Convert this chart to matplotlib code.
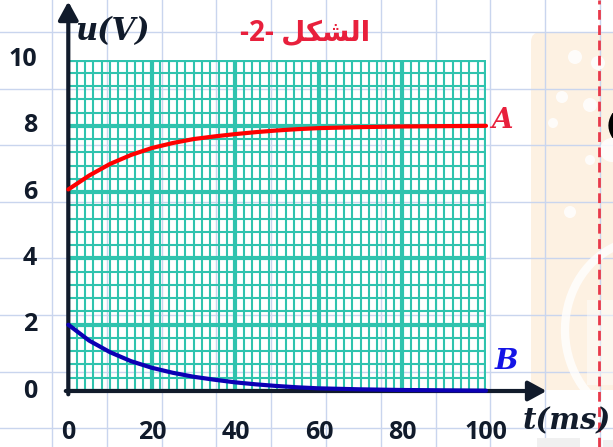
import numpy as np
import matplotlib
matplotlib.use('Agg')
import matplotlib.pyplot as plt
from matplotlib.patches import FancyBboxPatch, Circle, Arc, Rectangle

# values
t_ms = [0, 5, 10, 15, 20, 25, 30, 35, 40, 45, 50, 55, 60, 70, 80, 90, 100]
u_A = [6.08, 6.5, 6.85, 7.12, 7.33, 7.48, 7.6, 7.68, 7.75, 7.81, 7.86, 7.9, 7.93, 7.96, 7.98, 7.99, 8.0]
u_B = [2.0, 1.52, 1.17, 0.9, 0.7, 0.55, 0.43, 0.34, 0.26, 0.2, 0.15, 0.11, 0.08, 0.05, 0.03, 0.02, 0.01]

x_ticks = [0, 20, 40, 60, 80, 100]
y_ticks = [0, 2, 4, 6, 8, 10]

# "الشكل -2-" written left to right with presentation forms
title_text = '-2- ' + '\uFEDE\uFEDC\uFEB8\uFEDF\uFE8D'

DARK = '#111b2b'
GREEN = '#2fc3ae'
RED = '#e8203c'
BLUE = '#1414e6'

W, H = 613, 447
fig = plt.figure(figsize=(W / 100, H / 100), dpi=100)
fig.patch.set_facecolor('white')

# background page: light squared paper and decoration on the right
bg = fig.add_axes([0, 0, 1, 1], zorder=0)
bg.set_xlim(0, W)
bg.set_ylim(H, 0)
bg.axis('off')
for x in np.arange(52, W, 54.8):
    bg.axvline(x, color='#c9d5ee', lw=1.0)
for y in np.arange(32, H, 56.6):
    bg.axhline(y, color='#c9d5ee', lw=1.0)

bg.add_patch(FancyBboxPatch((531, 32), 130, 358, boxstyle='round,pad=0,rounding_size=10',
                            fc='#fdf1e2', ec='none', zorder=1))
for cx, cy, r in [(575, 57, 7), (598, 63, 7), (562, 97, 6), (590, 105, 7),
                  (553, 123, 5), (590, 160, 5), (612, 150, 12), (570, 212, 6)]:
    bg.add_patch(Circle((cx, cy), r, fc='white', ec='none', alpha=0.85, zorder=2))
bg.add_patch(Arc((645, 330), 160, 180, theta1=105, theta2=250, color='white', lw=6,
                 alpha=0.8, zorder=2))
bg.add_patch(Rectangle((587, 300), 30, 85, fc='white', ec='none', alpha=0.45, zorder=2))
bg.add_patch(Rectangle((537, 438), 43, 12, fc='#f0f0f0', ec='none', zorder=2))
bg.add_patch(Rectangle((603, 440), 12, 10, fc='#f0f0f0', ec='none', zorder=2))
bg.text(606, 127, '(', fontsize=20, fontweight='bold', color='black', ha='left', va='center', zorder=3)
bg.axvline(599, color='#e8394a', lw=2, ls=(0, (3.5, 2)), zorder=4)

# graph paper axes
x0, x1 = 68.3, 486
y0, y1 = 391, 59.5
ax = fig.add_axes([x0 / W, (H - y0) / H, (x1 - x0) / W, (y0 - y1) / H], zorder=2)
ax.set_facecolor('none')
ax.set_xlim(0, 100)
ax.set_ylim(0, 10)
for s in ax.spines.values():
    s.set_visible(False)

ax.set_xticks(x_ticks)
ax.set_xticks(np.arange(0, 100.1, 2), minor=True)
ax.set_yticks(y_ticks)
ax.set_yticks(np.arange(0, 10.01, 0.4), minor=True)
ax.tick_params(which='both', length=0, labelbottom=False, labelleft=False)
ax.grid(which='major', color=GREEN, lw=3.0)
ax.grid(which='minor', color=GREEN, lw=1.5)
ax.set_axisbelow(True)

# axes with arrows
arrow = dict(arrowstyle='-|>,head_length=0.55,head_width=0.3', lw=3, color=DARK,
             shrinkA=0, shrinkB=0, mutation_scale=20)
ax.annotate('', xy=(0, 11.75), xytext=(0, -0.1), arrowprops=arrow, annotation_clip=False, zorder=4)
ax.annotate('', xy=(114.5, 0), xytext=(-0.6, 0), arrowprops=arrow, annotation_clip=False, zorder=4)

# curves
ax.plot(t_ms, u_A, color='#ff0000', lw=3, solid_capstyle='round', clip_on=False, zorder=5)
ax.plot(t_ms, u_B, color='#0c00b4', lw=3, solid_capstyle='round', clip_on=False, zorder=5)

# tick labels
tick_font = dict(family=['Open Sans', 'DejaVu Sans'], fontsize=18, fontweight='bold', color=DARK)
for xv in x_ticks:
    ax.text(xv, -1.24, str(xv), ha='center', va='center', clip_on=False, **tick_font)
for yv in y_ticks:
    ax.text(-7.5, yv, str(yv), ha='right', va='center', clip_on=False, **tick_font)

# labels
label_font = dict(family='DejaVu Serif', fontweight='bold', style='italic')
ax.text(10.5, 10.85, 'u(V)', ha='center', va='center', fontsize=22, color=DARK, clip_on=False, **label_font)
ax.text(130.0, -0.9, 't(ms)', ha='right', va='center', fontsize=21, color=DARK, clip_on=False, **label_font)
ax.text(103.8, 8.17, 'A', ha='center', va='center', fontsize=20, color=RED, clip_on=False, **label_font)
ax.text(104.9, 0.9, 'B', ha='center', va='center', fontsize=20, color=BLUE, clip_on=False, **label_font)

ax.text(56.8, 10.8, title_text, ha='center', va='center', fontsize=20, fontweight='bold',
        family=['Open Sans', 'DejaVu Sans'], color=RED, clip_on=False)

fig.savefig('out.png', dpi=100)
